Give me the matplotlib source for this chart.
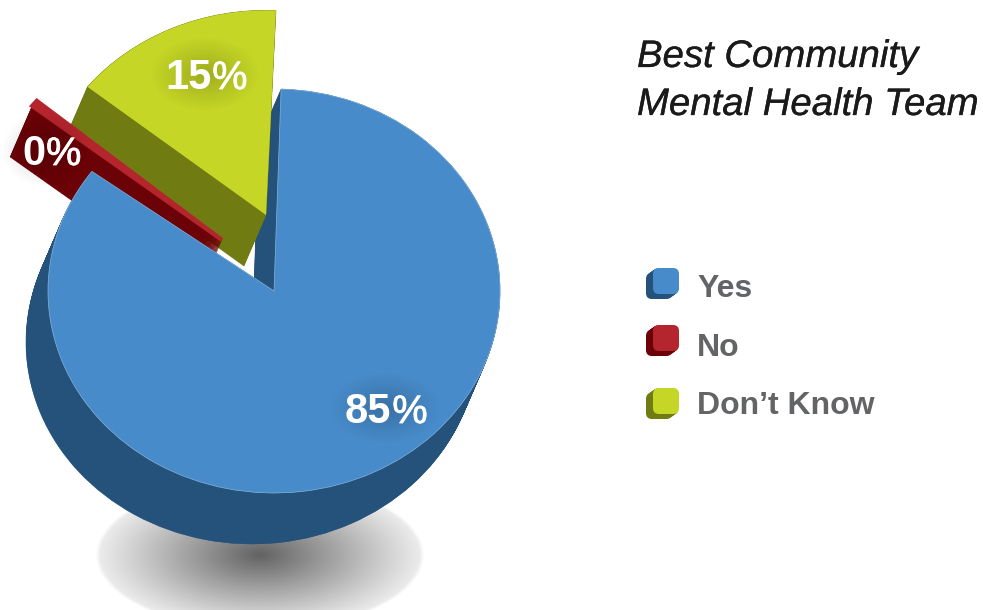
import numpy as np
import matplotlib
matplotlib.use("Agg")
import matplotlib.pyplot as plt
import matplotlib.patheffects as pe
from matplotlib.patches import Wedge, FancyBboxPatch

# Survey results; "No" is a fraction of a percent, which rounds to 0%.
categories = ["Yes", "No", "Don\u2019t Know"]
shares = [85, 0.49, 15]
title_lines = ["Best Community", "Mental Health Team"]

surface_colors = ["#478bca", "#b5252d", "#c5d626"]
wall_colors = ["#24527a", "#6b0207", "#707b12"]

W, H = 983, 610
SQUASH = 202 / 226  # vertical flattening of the tilted pie


def Y(py):
    """Convert a downward pixel row to the stretched data coordinate."""
    return (H - py) / SQUASH


fig = plt.figure(figsize=(W / 100, H / 100), dpi=100)
ax = fig.add_axes([0, 0, 1, 1])
plt.rcParams["font.family"] = ["Liberation Sans", "DejaVu Sans"]

DEPTH = np.array([-22.0, -51.0 / SQUASH])


def radial_glow(cx, cy, rx, ry, peak, edge=0.0, gamma=1.0, z=1, rgb=(0, 0, 0)):
    """Soft elliptical shadow, centred at pixel position (cx, cy)."""
    xs = np.linspace(-1, 1, 401)
    xx, yy = np.meshgrid(xs, xs)
    rho = np.sqrt(xx ** 2 + yy ** 2)
    alpha = edge + (peak - edge) * np.clip(1 - rho, 0, 1) ** gamma
    alpha *= np.clip((1 - rho) / 0.03, 0, 1)
    img = np.zeros((401, 401, 4))
    img[..., :3] = rgb
    img[..., 3] = alpha
    ax.imshow(img, extent=(cx - rx, cx + rx, Y(cy + ry), Y(cy - ry)),
              aspect="auto", zorder=z, interpolation="bilinear", origin="lower")


# Flat pie faces, built by the pie routine and then pulled apart below.
wedges, _ = ax.pie(shares, startangle=88.2, counterclock=False, radius=226,
                   center=(274, Y(291)), colors=surface_colors,
                   wedgeprops={"linewidth": 0})

centers = [(274, Y(291)), (222, Y(240)), (266, Y(215))]
radii = [226, 242, 229]
turns = [0.0, -2.0, -0.7]
wall_z = [3, 6, 4]
face_z = [9, 7, 5]

for w, c, r, turn, wz, fz, wall in zip(wedges, centers, radii, turns, wall_z, face_z, wall_colors):
    th1, th2 = w.theta1 + turn, w.theta2 + turn
    w.set_center(c)
    w.set_radius(r)
    w.set_theta1(th1)
    w.set_theta2(th2)
    w.set_zorder(fz)
    # Extruded side of the slice, stacked from the bottom rim upward.
    for t in np.linspace(1, 0, 80):
        ax.add_patch(Wedge((c[0] + DEPTH[0] * t, c[1] + DEPTH[1] * t), r, th1, th2,
                           facecolor=wall, edgecolor=wall, linewidth=0.4, zorder=wz))

wedges[0].set_edgecolor("#86b4dc")
wedges[0].set_linewidth(0.5)
wedges[1].set_edgecolor(surface_colors[1])
wedges[1].set_linewidth(3.0)

ax.set_xlim(0, W)
ax.set_ylim(0, H / SQUASH)
ax.set_aspect("auto")
ax.axis("off")

# Ground shadow under the pie.
radial_glow(260, 555, 165, 76, peak=0.62, edge=0.07, gamma=1.05, z=1)

# Slice value labels: bold digits with a lighter percent sign.
label_spots = [(345, 423), (22, 165), (165, 89)]
glow_spots = [(385, 408, 56, 36), (46, 150, 46, 38), (205, 74, 56, 38)]
for share, (lx, ly), (gx, gy, grx, gry) in zip(shares, label_spots, glow_spots):
    radial_glow(gx, gy, grx, gry, peak=0.2, gamma=1.1, z=10)
    digits = str(round(share))
    t = ax.text(lx, Y(ly), digits, color="white", fontsize=30, fontweight="bold",
                family=["Liberation Sans"], va="baseline", ha="left", zorder=11)
    fig.canvas.draw()
    right = ax.transData.inverted().transform((t.get_window_extent().x1, 0))[0]
    ax.text(right + 1, Y(ly), "%", color="white", fontsize=28.5,
            family=["Liberation Sans"], va="baseline", ha="left", zorder=11,
            path_effects=[pe.withStroke(linewidth=0.6, foreground="white")])

# Title block, slightly thickened to a medium weight.
for line, base in zip(title_lines, (67, 115)):
    ax.text(637, Y(base), line, color="#1a1a1a", fontsize=27.6, style="italic",
            family=["Liberation Sans"], va="baseline", ha="left", zorder=12,
            path_effects=[pe.withStroke(linewidth=0.2, foreground="#1a1a1a")])

# Legend with small extruded rounded keys.
key_tops = [268, 325, 388]
text_bases = [297, 356, 414]
for name, top, base, face, wall in zip(categories, key_tops, text_bases, surface_colors, wall_colors):
    for t in np.linspace(1, 0, 12):
        x0 = 653 - 7 * t
        ax.add_patch(FancyBboxPatch((x0, Y(top + 26 + 5 * t)), 26, 26 / SQUASH,
                                    boxstyle="round,pad=0,rounding_size=6",
                                    mutation_aspect=1 / SQUASH,
                                    facecolor=wall if t > 0 else face,
                                    edgecolor="none", zorder=12))
    ax.text(697, Y(base), name, color="#636466", fontsize=23, fontweight="bold",
            family=["Liberation Sans"], va="baseline", ha="left", zorder=12)

fig.savefig("out.png", dpi=100)
